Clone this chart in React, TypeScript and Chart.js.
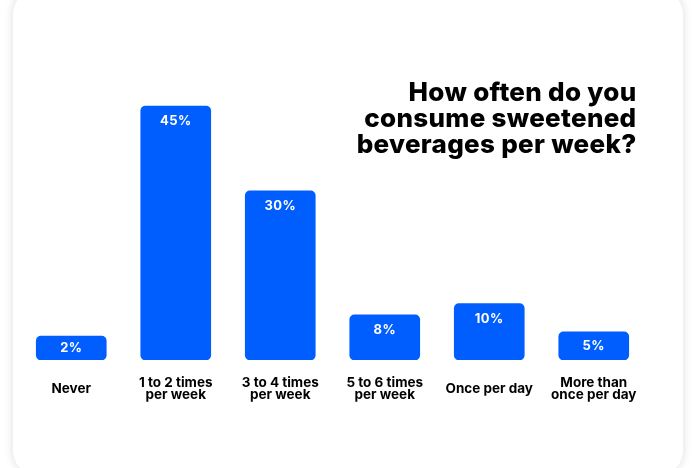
import React, { useEffect, useRef } from "react";
import { Chart, registerables } from "chart.js";

Chart.register(...registerables);

const categories: string[][] = [
  ["Never"],
  ["1 to 2 times", "per week"],
  ["3 to 4 times", "per week"],
  ["5 to 6 times", "per week"],
  ["Once per day"],
  ["More than", "once per day"],
];
const shares: number[] = [2, 45, 30, 8, 10, 5];
const titleLines: string[] = ["How often do you", "consume sweetened", "beverages per week?"];

const BLUE = "#005EFF";
const FONT = "Inter, 'DejaVu Sans', sans-serif";

const valueLabels = {
  id: "valueLabels",
  afterDatasetsDraw(chart: any) {
    const ctx = chart.ctx;
    const meta = chart.getDatasetMeta(0);
    ctx.save();
    ctx.fillStyle = "#ffffff";
    ctx.font = `700 13px ${FONT}`;
    try { (ctx as any).letterSpacing = "0.4px"; } catch (e) {}
    ctx.textAlign = "center";
    ctx.textBaseline = "middle";
    meta.data.forEach((bar: any, i: number) => {
      const h = bar.base - bar.y;
      const off = Math.min(15, h / 2);
      ctx.fillText(`${shares[i]}%`, bar.x, bar.y + off);
    });
    ctx.restore();
  },
};

const titlePlugin = {
  id: "cornerTitle",
  afterDraw(chart: any) {
    const ctx = chart.ctx;
    ctx.save();
    ctx.fillStyle = "#000000";
    ctx.font = `800 26px ${FONT}`;
    try { (ctx as any).letterSpacing = "0.3px"; } catch (e) {}
    ctx.textAlign = "right";
    ctx.textBaseline = "alphabetic";
    titleLines.forEach((line, i) => {
      ctx.fillText(line, 636.5, 101 + i * 26);
    });
    ctx.restore();
  },
};

export default function App() {
  const ref = useRef<HTMLCanvasElement | null>(null);
  useEffect(() => {
    if (!ref.current) return;
    const chart = new Chart(ref.current, {
      type: "bar",
      data: {
        labels: categories,
        datasets: [
          {
            data: shares,
            backgroundColor: BLUE,
            borderRadius: 5,
            borderSkipped: false,
            barThickness: 70,
            minBarLength: 24,
          },
        ],
      },
      options: {
        responsive: false,
        animation: false,
        layout: { padding: { left: 19, right: 46, top: 78, bottom: 38 } },
        plugins: { legend: { display: false }, tooltip: { enabled: false }, title: { display: false } },
        scales: {
          x: {
            grid: { display: false, drawTicks: false },
            border: { display: false },
            ticks: {
              color: "#000000",
              font: { family: FONT, size: 13.5, weight: "bold", lineHeight: "12px" as any },
              padding: 23,
              crossAlign: "center",
              maxRotation: 0,
              autoSkip: false,
            },
          },
          y: { display: false, min: 0, max: 50 },
        },
      },
      plugins: [valueLabels, titlePlugin],
    });
    return () => chart.destroy();
  }, []);

  return (
    <div style={{ position: "fixed", inset: 0, background: "#ffffff", overflow: "hidden" }}>
      <div
        style={{
          position: "absolute",
          left: 13,
          top: -10,
          width: 670,
          height: 485,
          borderRadius: 24,
          background: "#ffffff",
          boxShadow: "0 0 10px rgba(0,0,0,0.14)",
        }}
      />
      <canvas ref={ref} width={692} height={468} style={{ position: "absolute", left: 0, top: 0 }} />
    </div>
  );
}
